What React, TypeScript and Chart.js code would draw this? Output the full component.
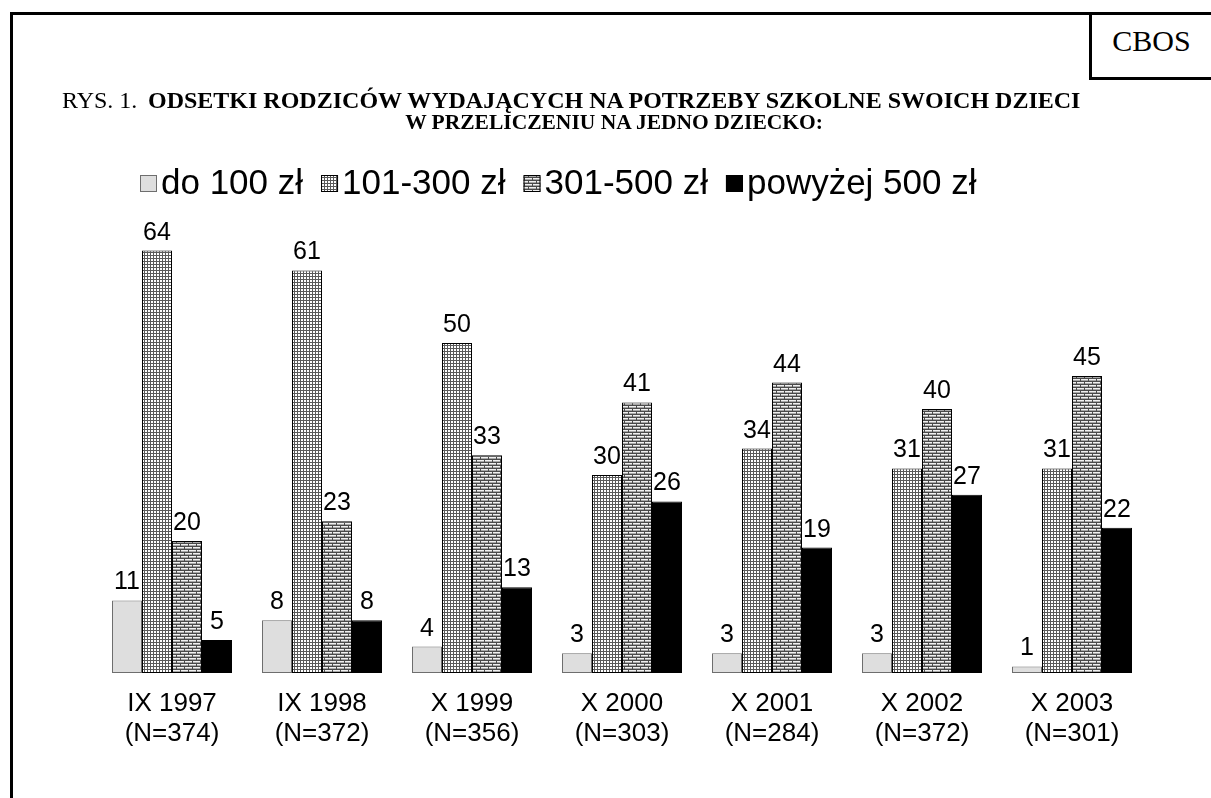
import React, { useEffect, useRef } from "react";
import { Chart, registerables } from "chart.js";

Chart.register(...registerables);

// ---- data ----
const categories: string[][] = [
  ["IX 1997", "(N=374)"],
  ["IX 1998", "(N=372)"],
  ["X 1999", "(N=356)"],
  ["X 2000", "(N=303)"],
  ["X 2001", "(N=284)"],
  ["X 2002", "(N=372)"],
  ["X 2003", "(N=301)"],
];
const seriesNames = ["do 100 zł", "101-300 zł", "301-500 zł", "powyżej 500 zł"];
const upTo100 = [11, 8, 4, 3, 3, 3, 1];
const from101to300 = [64, 61, 50, 30, 34, 31, 31];
const from301to500 = [20, 23, 33, 41, 44, 40, 45];
const over500 = [5, 8, 13, 26, 19, 27, 22];

const FONT = '"Liberation Sans", Arial, sans-serif';
const SERIF = '"Liberation Serif", "Times New Roman", serif';

function gridPattern(ctx: CanvasRenderingContext2D) {
  const c = document.createElement("canvas");
  c.width = 3;
  c.height = 3;
  const g = c.getContext("2d")!;
  g.fillStyle = "#ffffff";
  g.fillRect(0, 0, 3, 3);
  g.fillStyle = "#5a5a5a";
  g.fillRect(0, 0, 3, 1);
  g.fillRect(0, 0, 1, 3);
  return ctx.createPattern(c, "repeat")!;
}

function brickPattern(ctx: CanvasRenderingContext2D) {
  const c = document.createElement("canvas");
  c.width = 8;
  c.height = 6;
  const g = c.getContext("2d")!;
  g.fillStyle = "#f0f0f0";
  g.fillRect(0, 0, 8, 6);
  g.fillStyle = "#a8a8a8";
  g.fillRect(0, 2, 8, 1);
  g.fillRect(0, 5, 8, 1);
  g.fillStyle = "#4a4a4a";
  g.fillRect(0, 0, 8, 1);
  g.fillRect(0, 3, 8, 1);
  g.fillRect(0, 1, 1, 2);
  g.fillRect(4, 4, 1, 2);
  return ctx.createPattern(c, "repeat")!;
}

const valueLabels = {
  id: "valueLabels",
  afterDatasetsDraw(chart: any) {
    const { ctx } = chart;
    ctx.save();
    ctx.font = `25px ${FONT}`;
    ctx.fillStyle = "#000";
    ctx.textAlign = "center";
    ctx.textBaseline = "alphabetic";
    chart.data.datasets.forEach((ds: any, di: number) => {
      const meta = chart.getDatasetMeta(di);
      meta.data.forEach((el: any, i: number) => {
        ctx.fillText(String(ds.data[i]), el.x, el.y - 11);
      });
    });
    ctx.restore();
  },
};

const customLegend = {
  id: "customLegend",
  afterDraw(chart: any) {
    const { ctx } = chart;
    ctx.save();
    ctx.font = `35px ${FONT}`;
    ctx.textBaseline = "middle";
    ctx.textAlign = "left";
    let x = 140;
    const boxTop = 175;
    const box = 17;
    chart.data.datasets.forEach((ds: any) => {
      ctx.fillStyle = ds.backgroundColor;
      ctx.fillRect(x, boxTop, box, box);
      ctx.strokeStyle = ds.borderColor;
      ctx.lineWidth = 1;
      ctx.strokeRect(x + 0.5, boxTop + 0.5, box - 1, box - 1);
      x += box + 4;
      ctx.fillStyle = "#000";
      ctx.fillText(ds.label, x, boxTop + box / 2 + 1);
      x += ctx.measureText(ds.label).width + 18;
    });
    ctx.restore();
  },
};

export default function App() {
  const ref = useRef<HTMLCanvasElement>(null);

  useEffect(() => {
    const canvas = ref.current!;
    const ctx = canvas.getContext("2d")!;
    const chart = new Chart(ctx, {
      type: "bar",
      data: {
        labels: categories,
        datasets: [
          {
            label: seriesNames[0],
            data: upTo100,
            backgroundColor: "#dedede",
            borderColor: "#6e6e6e",
            borderWidth: 1,
          },
          {
            label: seriesNames[1],
            data: from101to300,
            backgroundColor: gridPattern(ctx) as any,
            borderColor: "#000",
            borderWidth: 1,
          },
          {
            label: seriesNames[2],
            data: from301to500,
            backgroundColor: brickPattern(ctx) as any,
            borderColor: "#000",
            borderWidth: 1,
          },
          {
            label: seriesNames[3],
            data: over500,
            backgroundColor: "#000",
            borderColor: "#000",
            borderWidth: 1,
          },
        ],
      },
      options: {
        responsive: false,
        animation: false,
        devicePixelRatio: 1,
        layout: { padding: { left: 97, right: 64, top: 211, bottom: 33 } },
        datasets: {
          bar: {
            barPercentage: 1,
            categoryPercentage: 0.8,
            borderSkipped: false,
          },
        } as any,
        plugins: {
          legend: { display: false },
          title: { display: false },
          tooltip: { enabled: false },
        },
        scales: {
          x: {
            grid: { display: false, drawTicks: false },
            border: { display: false },
            ticks: {
              color: "#000",
              padding: 16,
              font: { family: FONT, size: 26, lineHeight: 1.154 },
              maxRotation: 0,
              autoSkip: false,
            },
          },
          y: {
            display: false,
            min: 0,
            max: 70,
          },
        },
      },
      plugins: [valueLabels, customLegend],
    });
    return () => chart.destroy();
  }, []);

  return (
    <div
      style={{
        position: "fixed",
        left: 0,
        top: 0,
        width: 1211,
        height: 798,
        overflow: "hidden",
        background: "#fff",
      }}
    >
      <div
        style={{
          position: "absolute",
          left: 10,
          top: 12,
          width: 1400,
          height: 1000,
          border: "3px solid #000",
          boxSizing: "border-box",
        }}
      />
      <div
        style={{
          position: "absolute",
          left: 1089,
          top: 12,
          width: 200,
          height: 68,
          border: "3px solid #000",
          boxSizing: "border-box",
        }}
      />
      <div
        style={{
          position: "absolute",
          left: 1092,
          top: 21,
          width: 119,
          textAlign: "center",
          fontFamily: SERIF,
          fontSize: 30,
          lineHeight: "40px",
          color: "#000",
        }}
      >
        CBOS
      </div>
      <canvas
        ref={ref}
        width={1211}
        height={798}
        style={{ position: "absolute", left: 0, top: 0, width: 1211, height: 798 }}
      />
      <div
        style={{
          position: "absolute",
          left: 62,
          top: 89,
          fontFamily: SERIF,
          fontSize: 24,
          lineHeight: "22px",
          color: "#000",
          whiteSpace: "nowrap",
        }}
      >
        RYS. 1.
      </div>
      <div
        style={{
          position: "absolute",
          left: 148,
          top: 89,
          width: 932,
          textAlign: "center",
          fontFamily: SERIF,
          fontWeight: "bold",
          color: "#000",
          whiteSpace: "nowrap",
        }}
      >
        <div style={{ fontSize: 24, lineHeight: "22px" }}>
          ODSETKI RODZICÓW WYDAJĄCYCH NA POTRZEBY SZKOLNE SWOICH DZIECI
        </div>
        <div style={{ fontSize: 21.5, lineHeight: "22px" }}>
          W PRZELICZENIU NA JEDNO DZIECKO:
        </div>
      </div>
    </div>
  );
}
